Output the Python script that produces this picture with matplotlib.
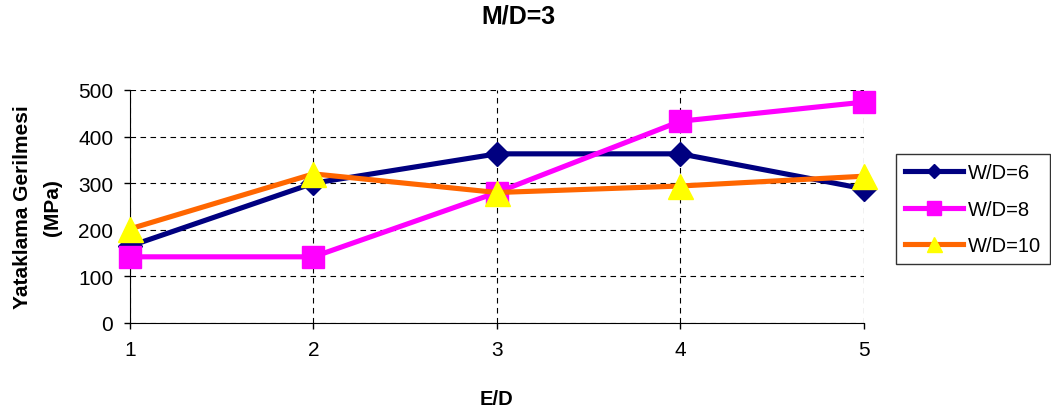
import numpy as np
import matplotlib.pyplot as plt

plt.rcParams['font.family'] = ['Liberation Sans', 'DejaVu Sans']

ed = [1, 2, 3, 4, 5]
wd6 = [165, 300, 363, 363, 288]
wd8 = [142, 142, 280, 433, 474]
wd10 = [202, 320, 280, 294, 315]

fig = plt.figure(figsize=(10.51, 4.14), dpi=100)
ax = fig.add_axes([0.1237, 0.2174, 0.6983, 0.5628])

ax.plot(ed, wd6, color='#000080', lw=3.7, marker='D', ms=12,
        mfc='#000080', mec='#000080', label='W/D=6', clip_on=False, zorder=3)
ax.plot(ed, wd8, color='#FF00FF', lw=3.7, marker='s', ms=16,
        mfc='#FF00FF', mec='#FF00FF', label='W/D=8', clip_on=False, zorder=4)
ax.plot(ed, wd10, color='#FF6600', lw=3.7, marker='^', ms=18,
        mfc='#FFFF00', mec='#FFFF00', label='W/D=10', clip_on=False, zorder=5)

ax.set_xlim(1, 5)
ax.set_ylim(0, 500)
ax.set_xticks(ed)
ax.set_yticks(np.arange(0, 501, 100))
ax.grid(True, color='black', linestyle=(0, (5, 4)), linewidth=0.8)
ax.set_axisbelow(True)
for s in ['top', 'right']:
    ax.spines[s].set_visible(False)
ax.tick_params(labelsize=15, direction='out', length=4, width=1, pad=8)

ax.set_xlabel('E/D', fontsize=14.5, fontweight='bold')
ax.xaxis.set_label_coords(0.5, -0.285)
ax.set_ylabel('Yataklama Gerilmesi\n(MPa)', fontsize=15, fontweight='bold',
              linespacing=1.7)
ax.yaxis.set_label_coords(-0.093, 0.5)
fig.text(0.493, 0.959, 'M/D=3', ha='center', va='center', fontsize=18, fontweight='bold')

leg = ax.legend(loc='upper left', bbox_to_anchor=(896 / 1051, 1 - 155 / 414),
                bbox_transform=fig.transFigure, borderaxespad=0, fontsize=14.5,
                markerscale=0.6, frameon=True, fancybox=False, edgecolor='black',
                handlelength=2.9, handletextpad=0.2, labelspacing=0.87, borderpad=0.45)
leg.get_frame().set_linewidth(1)

fig.savefig('out.png', dpi=100)
